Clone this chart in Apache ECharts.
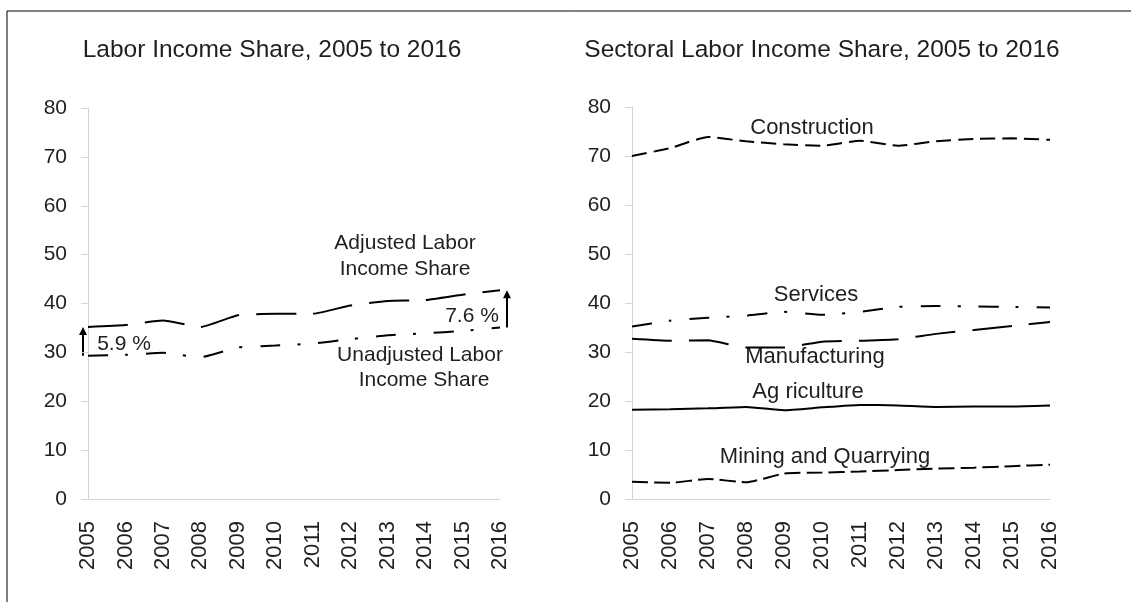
<!DOCTYPE html>
<html>
<head>
<meta charset="utf-8">
<script src="https://cdn.jsdelivr.net/npm/echarts@6/dist/echarts.min.js"></script>
<style>
  html, body { margin: 0; padding: 0; background: #fff; }
  #chart { width: 1131px; height: 602px; }
</style>
</head>
<body>
<div id="chart"></div>
<script>
const years = ['2005','2006','2007','2008','2009','2010','2011','2012','2013','2014','2015','2016'];
const yTicks = [0, 10, 20, 30, 40, 50, 60, 70, 80];

// Left panel
const adjusted   = [35.2, 35.6, 36.5, 35.2, 37.6, 37.9, 37.9, 39.6, 40.5, 40.7, 41.8, 42.7];
const unadjusted = [29.3, 29.5, 29.9, 29.0, 31.0, 31.4, 31.8, 32.7, 33.5, 33.9, 34.4, 35.1];
const gapStart = '5.9 %';
const gapEnd = '7.6 %';

// Right panel
const construction  = [70.0, 71.6, 73.9, 73.0, 72.4, 72.1, 73.1, 72.1, 73.0, 73.5, 73.6, 73.3];
const services      = [35.2, 36.4, 37.0, 37.4, 38.2, 37.6, 38.2, 39.2, 39.4, 39.3, 39.2, 39.1];
const manufacturing = [32.7, 32.3, 32.4, 30.9, 30.9, 32.1, 32.3, 32.6, 33.7, 34.5, 35.3, 36.1];
const agriculture   = [18.2, 18.3, 18.5, 18.8, 18.1, 18.7, 19.2, 19.1, 18.8, 18.9, 18.9, 19.1];
const mining        = [3.5, 3.3, 4.1, 3.4, 5.2, 5.4, 5.6, 5.9, 6.2, 6.4, 6.7, 7.0];

const FONT = '"Liberation Sans", Arial, sans-serif';
const TXT = '#1f1f1f';
const AXIS = '#d4d4d4';

const chart = echarts.init(document.getElementById('chart'), null, { renderer: 'canvas' });

function xAxis(gi) {
  return {
    type: 'category', gridIndex: gi, data: years, boundaryGap: false,
    axisLine: { show: true, lineStyle: { color: AXIS, width: 1 } },
    axisTick: { show: false },
    axisLabel: { rotate: 90, margin: 22, fontSize: 22, color: TXT, fontFamily: FONT, interval: 0 },
    splitLine: { show: false }
  };
}
function yAxis(gi) {
  return {
    type: 'value', gridIndex: gi, min: yTicks[0], max: yTicks[yTicks.length - 1], interval: 10,
    axisLine: { show: true, lineStyle: { color: AXIS, width: 1 } },
    axisTick: { show: true, length: 7, lineStyle: { color: AXIS } },
    axisLabel: { margin: 21, fontSize: 21, color: TXT, fontFamily: FONT },
    splitLine: { show: false }
  };
}
function line(name, gi, data, dash) {
  return {
    name, type: 'line', xAxisIndex: gi, yAxisIndex: gi, data,
    symbol: 'none', smooth: 0.15, silent: true,
    lineStyle: { color: '#000', width: 2, type: dash || 'solid', cap: 'butt' }
  };
}
function txt(x, y, s, size) {
  return { type: 'text', x, y, silent: true,
    style: { text: s, fill: TXT, font: (size || 21) + 'px ' + FONT, textAlign: 'center', textVerticalAlign: 'middle' } };
}

const option = {
  animation: false,
  backgroundColor: '#fff',
  grid: [
    { left: 88, top: 108, width: 412, height: 391 },
    { left: 632, top: 107, width: 418, height: 392 }
  ],
  xAxis: [xAxis(0), xAxis(1)],
  yAxis: [yAxis(0), yAxis(1)],
  series: [
    line('Adjusted Labor Income Share', 0, adjusted, [40, 17]),
    line('Unadjusted Labor Income Share', 0, unadjusted, [20, 17, 3, 18]),
    line('Construction', 1, construction, [15, 7]),
    line('Services', 1, services, [20, 17, 3, 18]),
    line('Manufacturing', 1, manufacturing, [40, 17]),
    line('Agriculture', 1, agriculture, 'solid'),
    line('Mining and Quarrying', 1, mining, [16, 6])
  ],
  graphic: [
    { type: 'rect', silent: true, shape: { x: 7, y: 11, width: 1200, height: 700 },
      style: { fill: 'none', stroke: '#000', lineWidth: 1 } },
    txt(272, 50, 'Labor Income Share, 2005 to 2016', 24.5),
    txt(822, 50, 'Sectoral Labor Income Share, 2005 to 2016', 24.5),
    txt(405, 243, 'Adjusted Labor', 21),
    txt(405, 269, 'Income Share', 21),
    txt(420, 355, 'Unadjusted Labor', 21),
    txt(424, 380, 'Income Share', 21),
    txt(124, 344, gapStart, 21),
    txt(472, 316, gapEnd, 21),
    txt(812, 128, 'Construction', 22),
    txt(816, 295, 'Services', 22),
    txt(815, 357, 'Manufacturing', 22),
    txt(808, 392, 'Ag riculture', 22),
    txt(825, 457, 'Mining and Quarrying', 22)
  ]
};
chart.setOption(option);

// Gap arrows, placed from the data through the axes
function arrow(x, yFrom, yTo) {
  return {
    type: 'group', silent: true,
    children: [
      { type: 'line', shape: { x1: x, y1: yFrom, x2: x, y2: yTo + 6 }, style: { stroke: '#000', lineWidth: 2 } },
      { type: 'polygon', shape: { points: [[x, yTo], [x - 4, yTo + 8], [x + 4, yTo + 8]] }, style: { fill: '#000' } }
    ]
  };
}
const a0 = chart.convertToPixel({ gridIndex: 0 }, [0, unadjusted[0]]);
const a1 = chart.convertToPixel({ gridIndex: 0 }, [0, adjusted[0]]);
const b0 = chart.convertToPixel({ gridIndex: 0 }, [years.length - 1, unadjusted[years.length - 1]]);
const b1 = chart.convertToPixel({ gridIndex: 0 }, [years.length - 1, adjusted[years.length - 1]]);
chart.setOption({
  graphic: option.graphic.concat([
    arrow(a0[0] - 5, a0[1], a1[1]),
    arrow(b0[0] + 7, b0[1], b1[1])
  ])
});
</script>
</body>
</html>
